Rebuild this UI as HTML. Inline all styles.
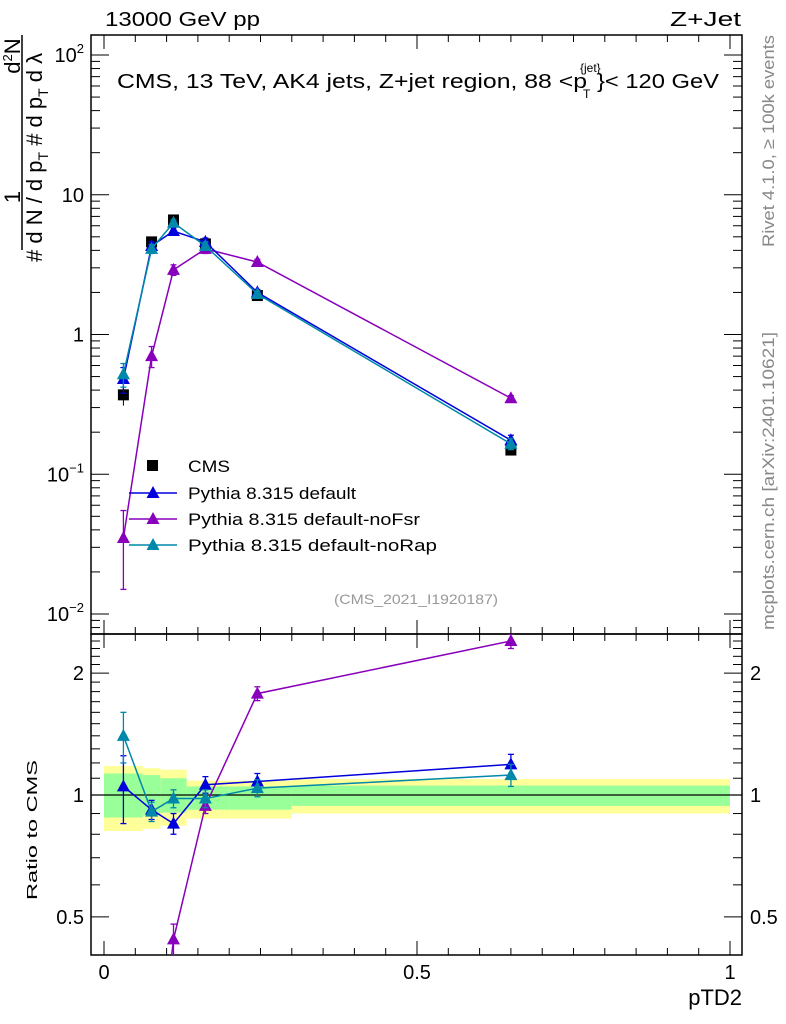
<!DOCTYPE html>
<html><head><meta charset="utf-8"><style>
html,body{margin:0;padding:0;background:#fff;overflow:hidden;width:786px;height:1024px}
svg text{font-family:"Liberation Sans",sans-serif}
</style></head><body>
<svg id="c" width="786" height="1024" xmlns="http://www.w3.org/2000/svg" style="display:block"></svg>
<script>
const xs=[0.031,0.076,0.111,0.162,0.245,0.65];
const cms=[0.37,4.6,6.6,4.45,1.9,0.149];
const cmsErr=[0.06,0.3,0.4,0.3,0.12,0.01];
const pDef=[0.48,4.3,5.5,4.6,2.0,0.175];
const pDefErr=[0.1,0.3,0.3,0.3,0.1,0.015];
const pFsr=[0.035,0.7,2.9,4.1,3.3,0.35];
const pFsrErr=[0.02,0.12,0.25,0.3,0.15,0.015];
const pRap=[0.52,4.1,6.3,4.3,1.95,0.165];
const pRapErr=[0.1,0.3,0.3,0.3,0.1,0.015];
const rDef=[1.05,0.92,0.85,1.06,1.08,1.19];
const rDefErr=[0.2,0.05,0.05,0.05,0.05,0.07];
const rFsr=[0.095,0.15,0.44,0.94,1.78,2.4];
const rFsrErr=[0.05,0.03,0.04,0.04,0.07,0.1];
const rRap=[1.4,0.91,0.98,0.98,1.04,1.12];
const rRapErr=[0.2,0.05,0.05,0.05,0.05,0.07];
const binEdges=[0,0.062,0.09,0.132,0.2,0.3,1.0];
const yelLo=[0.815,0.825,0.84,0.875,0.875,0.90];
const yelHi=[1.18,1.165,1.155,1.085,1.085,1.095];
const grnLo=[0.88,0.89,0.905,0.92,0.92,0.94];
const grnHi=[1.13,1.12,1.1,1.05,1.05,1.055];
const ratioTicks=[0.5,1,2];

const L=91,R=742,T=35,M=634,B=955;
const X=v=>104+626*v;
const Y=v=>55+139.75*(2-Math.log10(v));
const YR=v=>795-405*Math.log10(v);
const s=document.getElementById('c');
const NS='http://www.w3.org/2000/svg';
function el(t,a,txt){const e=document.createElementNS(NS,t);for(const k in a)e.setAttribute(k,a[k]);if(txt!=null)e.textContent=txt;s.appendChild(e);return e;}

for(let i=0;i<6;i++){
 let b=el('rect',{x:X(binEdges[i]),y:YR(yelHi[i]),width:X(binEdges[i+1])-X(binEdges[i]),height:YR(yelLo[i])-YR(yelHi[i]),fill:'#ffff99'});
 
 
 let g=el('rect',{x:X(binEdges[i]),y:YR(grnHi[i]),width:X(binEdges[i+1])-X(binEdges[i]),height:YR(grnLo[i])-YR(grnHi[i]),fill:'#99ff99'});
 
 
}
el('line',{x1:L,x2:R,y1:YR(1),y2:YR(1),stroke:'#000','stroke-width':1.2});

el('rect',{x:L,y:T,width:R-L,height:M-T,fill:'none',stroke:'#000','stroke-width':1.5});
el('rect',{x:L,y:M,width:R-L,height:B-M,fill:'none',stroke:'#000','stroke-width':1.5});

for(let k=0;k<=20;k++){const v=k*0.05,x=X(v),len=(k%10==0)?14:7;
 el('line',{x1:x,x2:x,y1:M,y2:M-len,stroke:'#000'});el('line',{x1:x,x2:x,y1:T,y2:T+len,stroke:'#000'});
 el('line',{x1:x,x2:x,y1:B,y2:B-len,stroke:'#000'});el('line',{x1:x,x2:x,y1:M,y2:M+len,stroke:'#000'});}
[[0,'0'],[0.5,'0.5'],[1,'1']].forEach(([v,t])=>el('text',{x:X(v),y:979,'font-size':20,'text-anchor':'middle'},t));
el('text',{x:742,y:1005,'font-size':22,'text-anchor':'end',},'pTD2');

for(let d=-3;d<=2;d++){for(let m=1;m<10;m++){const v=m*Math.pow(10,d),y=Y(v);if(y<T||y>M)continue;const len=m==1?18:9;
 el('line',{x1:L,x2:L+len,y1:y,y2:y,stroke:'#000'});el('line',{x1:R,x2:R-len,y1:y,y2:y,stroke:'#000'});}}
const lbl=(y,base,exp)=>{const t=el('text',{x:84,y:y+7,'font-size':20,'text-anchor':'end'});t.innerHTML=exp?base+'<tspan dy="-9" font-size="13">'+exp+'</tspan>':base;};
lbl(Y(100),'10','2');lbl(Y(10),'10','');lbl(Y(1),'1','');lbl(Y(0.1),'10','−1');lbl(Y(0.01),'10','−2');
for(let v=0.4;v<=2.5;v+=0.1){const y=YR(v);if(y<M||y>B)continue;const maj=[0.5,1,2].some(a=>Math.abs(a-v)<1e-6);const len=maj?18:9;
 el('line',{x1:L,x2:L+len,y1:y,y2:y,stroke:'#000'});el('line',{x1:R,x2:R-len,y1:y,y2:y,stroke:'#000'});}
ratioTicks.forEach(v=>{el('text',{x:84,y:YR(v)+7,'font-size':20,'text-anchor':'end'},String(v));el('text',{x:750,y:YR(v)+7,'font-size':20},String(v));});

el('text',{x:105,y:26,'font-size':20,textLength:155,lengthAdjust:'spacingAndGlyphs',},'13000 GeV pp');
el('text',{x:670,y:26,'font-size':20,textLength:71,lengthAdjust:'spacingAndGlyphs',},'Z+Jet');
el('text',{x:117,y:88,'font-size':20,textLength:470,lengthAdjust:'spacingAndGlyphs',},'CMS, 13 TeV, AK4 jets, Z+jet region, 88 <p');
el('text',{x:580,y:72,'font-size':12},'{jet}');
el('text',{x:583,y:98,'font-size':12},'T');
el('text',{x:597,y:88,'font-size':20,textLength:122,lengthAdjust:'spacingAndGlyphs'},'}< 120 GeV');
el('text',{x:334,y:604,'font-size':14,fill:'#999',textLength:164,lengthAdjust:'spacingAndGlyphs'},'(CMS_2021_I1920187)');
el('text',{x:0,y:0,'font-size':17,fill:'#888',textLength:212,lengthAdjust:'spacingAndGlyphs',transform:'translate(774,247) rotate(-90)'},'Rivet 4.1.0, ≥ 100k events');
el('text',{x:0,y:0,'font-size':17,fill:'#888',textLength:298,lengthAdjust:'spacingAndGlyphs',transform:'translate(774,630) rotate(-90)'},'mcplots.cern.ch [arXiv:2401.10621]');
el('text',{x:0,y:0,'font-size':15,textLength:140,lengthAdjust:'spacingAndGlyphs',transform:'translate(37,900) rotate(-90)',},'Ratio to CMS');
const yt=el('text',{x:0,y:0,'font-size':22,transform:'translate(42,262) rotate(-90)',});
yt.innerHTML='# d N / d p<tspan dy="6" font-size="14">T</tspan><tspan dy="-6"> # d p</tspan><tspan dy="6" font-size="14">T</tspan><tspan dy="-6"> d λ</tspan>';
el('text',{x:0,y:0,'font-size':22,'text-anchor':'middle',transform:'translate(20,197) rotate(-90)'},'1');
const n2=el('text',{x:0,y:0,'font-size':22,'text-anchor':'middle',transform:'translate(20,56) rotate(-90)'});
n2.innerHTML='d<tspan dy="-8" font-size="13">2</tspan><tspan dy="8">N</tspan>';
el('line',{x1:22,x2:22,y1:35,y2:250,stroke:'#000','stroke-width':1.5});

function tri(x,y,c,name){const p=el('polygon',{points:`${x},${y-7} ${x-6.5},${y+5} ${x+6.5},${y+5}`,fill:c});
 
 }
function series(vals,errs,c,Yf,name,lo,hi){
 const all=vals.map((v,i)=>[X(xs[i]),Yf(v)]);
 el('clipPath',{id:'cp'+name}).innerHTML=`<rect x="${L}" y="${lo}" width="${R-L}" height="${hi-lo}"/>`;
 const g=el('g',{'clip-path':`url(#cp${name})`});
 const pl=document.createElementNS(NS,'polyline');pl.setAttribute('points',all.map(p=>p.join(',')).join(' '));pl.setAttribute('fill','none');pl.setAttribute('stroke',c);pl.setAttribute('stroke-width',1.5);g.appendChild(pl);
 vals.forEach((v,i)=>{const x=X(xs[i]),y1=Yf(Math.max(v-errs[i],1e-4)),y2=Yf(v+errs[i]);
  [['line',{x1:x,x2:x,y1:y1,y2:y2}],['line',{x1:x-3,x2:x+3,y1:y1,y2:y1}],['line',{x1:x-3,x2:x+3,y1:y2,y2:y2}]].forEach(([t,a])=>{const e=document.createElementNS(NS,t);for(const k in a)e.setAttribute(k,a[k]);e.setAttribute('stroke',c);e.setAttribute('stroke-width',1.3);g.appendChild(e);});
  const y=Yf(v);if(y>=lo&&y<=hi)tri(x,y,c,name+'-point');});
}
cms.forEach((v,i)=>{const x=X(xs[i]),y=Y(v);el('line',{x1:x,x2:x,y1:Y(v-cmsErr[i]),y2:Y(v+cmsErr[i]),stroke:'#000'});
 const r=el('rect',{x:x-5.5,y:y-5.5,width:11,height:11,fill:'#000'});
 
 });
series(pFsr,pFsrErr,'#8800bb',Y,'nofsr',T,M);
series(pDef,pDefErr,'#0000dd',Y,'default',T,M);
series(pRap,pRapErr,'#0088aa',Y,'norap',T,M);
series(rFsr,rFsrErr,'#8800bb',YR,'r-nofsr',M,B);
series(rDef,rDefErr,'#0000dd',YR,'r-default',M,B);
series(rRap,rRapErr,'#0088aa',YR,'r-norap',M,B);

el('rect',{x:147,y:460,width:11,height:11,fill:'#000'});
el('text',{x:188,y:472,'font-size':17,textLength:42,lengthAdjust:'spacingAndGlyphs',},'CMS');
[['#0000dd','Pythia 8.315 default',493,168],['#8800bb','Pythia 8.315 default-noFsr',519,232],['#0088aa','Pythia 8.315 default-noRap',545,249]].forEach(([c,t,y,w])=>{
 el('line',{x1:129,x2:177,y1:y,y2:y,stroke:c,'stroke-width':1.5});tri(153,y,c,'legend-marker');
 el('text',{x:188,y:y+6,'font-size':17,textLength:w,lengthAdjust:'spacingAndGlyphs',},t);});
</script>
</body></html>
